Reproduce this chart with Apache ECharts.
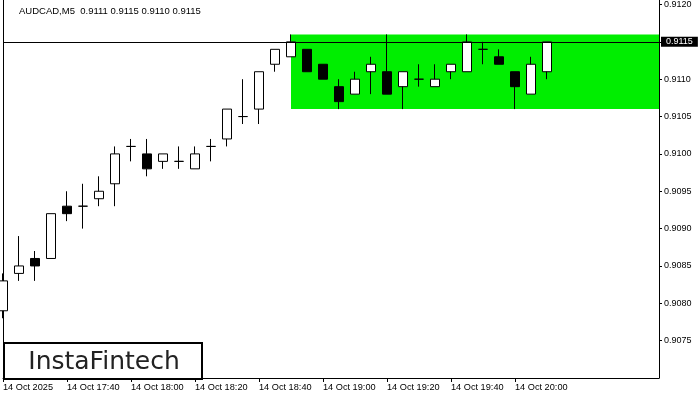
<!DOCTYPE html>
<html>
<head>
<meta charset="utf-8">
<script src="https://cdn.jsdelivr.net/npm/echarts@6/dist/echarts.min.js"></script>
<style>
html,body{margin:0;padding:0;background:#fff;}
#chart{width:700px;height:400px;}
</style>
</head>
<body>
<div id="chart"></div>
<script>
// Categories: 5-minute bars (35 drawn bars + empty future slots)
const times = ['17:20','17:25','17:30','17:35','17:40','17:45','17:50','17:55',
  '18:00','18:05','18:10','18:15','18:20','18:25','18:30','18:35',
  '18:40','18:45','18:50','18:55','19:00','19:05','19:10','19:15',
  '19:20','19:25','19:30','19:35','19:40','19:45','19:50','19:55',
  '20:00','20:05','20:10','20:15','20:20','20:25','20:30','20:35','20:40','20:45'];

const opens  = [0.9079,0.9084,0.9086,0.9086,0.9093,0.9093,0.9094,0.9096,0.9101,0.9100,0.9099,0.9099,0.9098,0.9101,0.9102,0.9105,0.9106,0.9112,0.9113,0.9114,0.9112,0.9109,0.9108,0.9111,0.9111,0.9109,0.9110,0.9109,0.9111,0.9111,0.9114,0.9113,0.9111,0.9108,0.9111];
const closes = [0.9083,0.9085,0.9085,0.9092,0.9092,0.9093,0.9095,0.9100,0.9101,0.9098,0.9100,0.9099,0.9100,0.9101,0.9106,0.9105,0.9111,0.9114,0.9115,0.9111,0.9110,0.9107,0.9110,0.9112,0.9108,0.9111,0.9110,0.9110,0.9112,0.9115,0.9114,0.9112,0.9109,0.9112,0.9115];
const lows   = [0.9078,0.9083,0.9083,0.9086,0.9091,0.9090,0.9093,0.9093,0.9099,0.9097,0.9098,0.9098,0.9098,0.9099,0.9101,0.9104,0.9104,0.9111,0.9113,0.9111,0.9110,0.9106,0.9108,0.9108,0.9108,0.9106,0.9109,0.9109,0.9110,0.9111,0.9112,0.9112,0.9106,0.9108,0.9110];
const highs  = [0.9084,0.9089,0.9087,0.9092,0.9095,0.9096,0.9097,0.9101,0.9102,0.9102,0.9100,0.9101,0.9101,0.9102,0.9106,0.9110,0.9111,0.9114,0.9116,0.9114,0.9112,0.9110,0.9111,0.9113,0.9116,0.9111,0.9112,0.9112,0.9112,0.9116,0.9115,0.9114,0.9111,0.9113,0.9115];

// X tick labels (category index -> text)
const xLabelIdx  = [0, 4, 8, 12, 16, 20, 24, 28, 32];
const xLabelText = ['14 Oct 2025','14 Oct 17:40','14 Oct 18:00','14 Oct 18:20','14 Oct 18:40','14 Oct 19:00','14 Oct 19:20','14 Oct 19:40','14 Oct 20:00'];

// Y ticks
const yTicks = [0.9075,0.9080,0.9085,0.9090,0.9095,0.9100,0.9105,0.9110,0.9115,0.9120];
const yMin = 0.9070, yMax = 0.91206;

// Rectangle zone and current price
const zoneStart = '18:50', zoneEnd = '20:45';
const zoneLow = 0.9106, zoneHigh = 0.9116;
const currentPrice = 0.9115;
const titleText = 'AUDCAD,M5  0.9111 0.9115 0.9110 0.9115';

const ohlc = opens.map((o, i) => [o, closes[i], lows[i], highs[i]]);

const FONT = 'Liberation Sans';
const chart = echarts.init(document.getElementById('chart'), null, {renderer: 'canvas'});
chart.setOption({
  animation: false,
  backgroundColor: '#fff',
  title: {
    text: titleText, left: 19, top: 6, padding: 0,
    textStyle: {fontFamily: FONT, fontSize: 9.5, fontWeight: 'normal', color: '#000'}
  },
  grid: {left: 3, right: 41, top: 0, bottom: 22, containLabel: false},
  xAxis: {
    type: 'category', data: times, boundaryGap: false,
    axisLine: {show: true, lineStyle: {color: '#000', width: 1}},
    axisTick: {show: true, length: 4, lineStyle: {color: '#000'},
      interval: (idx) => xLabelIdx.includes(idx)},
    axisLabel: {
      interval: (idx) => xLabelIdx.includes(idx),
      formatter: (val, idx) => { const k = xLabelIdx.indexOf(idx); return k >= 0 ? xLabelText[k] : ''; },
      align: 'left', margin: 5, fontFamily: FONT, fontSize: 9.2, color: '#000'
    },
    splitLine: {show: false}
  },
  yAxis: [{
    type: 'value', position: 'right', min: yMin, max: yMax, scale: true,
    axisLine: {show: true, lineStyle: {color: '#000', width: 1}},
    axisTick: {show: true, length: 3, inside: false, customValues: yTicks, lineStyle: {color: '#000'}},
    axisLabel: {customValues: yTicks, margin: 5, formatter: (v) => v.toFixed(4),
      fontFamily: FONT, fontSize: 9, color: '#000'},
    splitLine: {show: false}
  }, {
    type: 'value', position: 'left', min: yMin, max: yMax,
    axisLine: {show: true, onZero: false, lineStyle: {color: '#000', width: 1}},
    axisTick: {show: false}, axisLabel: {show: false}, splitLine: {show: false}
  }],
  series: [{
    type: 'candlestick',
    data: ohlc,
    barWidth: 10,
    clip: true,
    itemStyle: {
      color: '#ffffff', color0: '#000000',
      borderColor: '#000000', borderColor0: '#000000', borderColorDoji: '#000000',
      borderWidth: 1
    },
    markArea: {
      silent: true,
      itemStyle: {color: '#00ee00', opacity: 1},
      data: [[{xAxis: zoneStart, yAxis: zoneLow}, {xAxis: zoneEnd, yAxis: zoneHigh}]]
    },
    markLine: {
      silent: true, symbol: ['none', 'none'],
      lineStyle: {color: '#000', width: 1, type: 'solid'},
      label: {
        show: true, position: 'end', distance: 2,
        formatter: () => currentPrice.toFixed(4),
        backgroundColor: '#000', color: '#fff', padding: [1, 5, 0, 5],
        fontFamily: FONT, fontSize: 9
      },
      data: [[{coord: [times[0], currentPrice]}, {coord: [times[times.length - 1], currentPrice]}]]
    }
  }],
  graphic: [{
    type: 'group', left: 3, top: 342, z: 100,
    children: [{
      type: 'rect', shape: {x: 0, y: 0, width: 198, height: 36},
      style: {fill: '#fff', stroke: '#000', lineWidth: 2}
    }, {
      type: 'text', x: 100, y: 19,
      style: {text: 'InstaFintech', fill: '#222', font: '25px "DejaVu Sans"',
        textAlign: 'center', textVerticalAlign: 'middle'}
    }]
  }]
});
</script>
</body>
</html>
